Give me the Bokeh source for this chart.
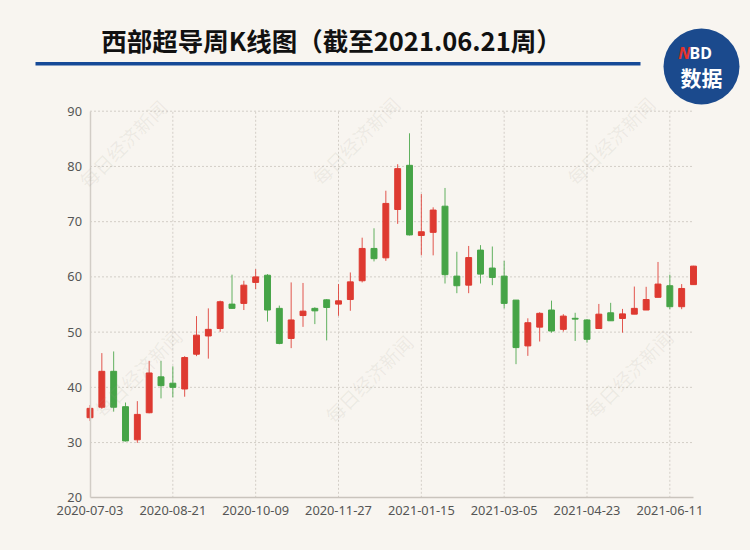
import math
from bokeh.plotting import figure
from bokeh.models import Range1d, FixedTicker, ColumnDataSource, Label, BoxAnnotation
from bokeh.embed import file_html
from bokeh.resources import INLINE

# ---------------- data ----------------
dates = [
    "2020-07-03", "2020-07-10", "2020-07-17", "2020-07-24", "2020-07-31", "2020-08-07", "2020-08-14",
    "2020-08-21", "2020-08-28", "2020-09-04", "2020-09-11", "2020-09-18", "2020-09-25", "2020-09-30",
    "2020-10-09", "2020-10-16", "2020-10-23", "2020-10-30", "2020-11-06", "2020-11-13", "2020-11-20",
    "2020-11-27", "2020-12-04", "2020-12-11", "2020-12-18", "2020-12-25", "2020-12-31", "2021-01-08",
    "2021-01-15", "2021-01-22", "2021-01-29", "2021-02-05", "2021-02-10", "2021-02-19", "2021-02-26",
    "2021-03-05", "2021-03-12", "2021-03-19", "2021-03-26", "2021-04-02", "2021-04-09", "2021-04-16",
    "2021-04-23", "2021-04-30", "2021-05-07", "2021-05-14", "2021-05-21", "2021-05-28", "2021-06-04",
    "2021-06-11", "2021-06-18", "2021-06-25",
]
opens = [34.5, 36.4, 42.9, 36.5, 30.5, 35.4, 41.9, 40.75, 39.7, 46.0, 49.3, 50.65, 55.07,
         55.2, 59.0, 60.3, 54.3, 48.85, 53.0, 54.3, 55.85, 55.07, 55.9, 59.3, 65.15, 63.45,
         72.2, 80.2, 67.5, 68.06, 72.8, 60.14, 58.5, 64.85, 61.6, 60.14, 55.8, 47.5, 50.9,
         54.0, 50.5, 52.5, 52.2, 50.65, 53.5, 52.47, 53.25, 54.0, 56.3, 58.4, 54.6, 58.6]
highs = [36.8, 46.2, 46.5, 37.25, 37.5, 44.8, 44.8, 43.8, 45.65, 52.9, 54.3, 55.7, 60.4,
         59.3, 61.4, 60.5, 54.8, 59.0, 58.9, 54.5, 55.97, 58.7, 60.8, 67.1, 68.8, 75.6,
         80.4, 86.0, 75.0, 72.6, 76.1, 64.55, 65.6, 65.75, 65.5, 62.9, 55.8, 52.5, 53.6,
         55.7, 53.25, 53.5, 52.35, 55.1, 55.3, 54.2, 58.25, 58.2, 62.7, 60.4, 58.7, 62.0]
lows = [33.9, 36.1, 35.6, 30.2, 29.95, 35.3, 38.0, 38.2, 38.3, 45.65, 45.2, 50.05, 54.2,
        54.0, 57.8, 51.9, 47.8, 47.1, 50.95, 51.45, 48.5, 52.95, 53.86, 59.0, 62.8, 62.9,
        69.6, 67.5, 63.9, 63.9, 58.8, 57.05, 57.05, 58.8, 58.5, 54.3, 44.2, 45.7, 48.3,
        49.9, 50.1, 48.4, 48.1, 50.65, 52.05, 49.9, 53.25, 54.0, 56.3, 54.15, 54.15, 58.6]
closes = [36.2, 42.9, 36.4, 30.3, 35.1, 42.6, 40.3, 40.0, 45.4, 49.45, 50.5, 55.5, 54.3,
          58.5, 60.0, 54.0, 47.95, 52.2, 53.8, 53.85, 54.46, 55.67, 59.1, 65.15, 63.3, 73.3,
          79.6, 67.6, 68.17, 72.1, 60.4, 58.4, 63.5, 60.5, 59.9, 55.2, 47.2, 51.7, 53.4,
          50.2, 52.9, 52.35, 48.7, 53.25, 52.05, 53.3, 54.3, 55.9, 58.7, 54.6, 57.9, 61.95]
y_ticks = [20, 30, 40, 50, 60, 70, 80, 90]
label_every = 7
title_text = "西部超导周K线图（截至2021.06.21周）"
watermark_text = "每日经济新闻"

# ---------------- style ----------------
BG = "#f8f5f0"
RED = "#de3a31"
GREEN = "#46a447"
GRID = "#d3cec7"
LABEL = "#555555"
NAVY = "#1b4a8d"

n = len(dates)
idx = list(range(n))
colors = [RED if c >= o else GREEN for o, c in zip(opens, closes)]
src = ColumnDataSource(dict(
    x=idx, open=opens, high=highs, low=lows, close=closes,
    top=[max(o, c) for o, c in zip(opens, closes)],
    bottom=[min(o, c) for o, c in zip(opens, closes)],
    color=colors,
))

# ---------------- canvas geometry ----------------
W, H = 746, 546
PLOT_L, PLOT_R = 89.5, 693.0      # page px of first / last category
PLOT_T, PLOT_B = 110.7, 497.3     # page px of top / bottom value
XU = (PLOT_R - PLOT_L) / (n - 1)
YU = (PLOT_B - PLOT_T) / (y_ticks[-1] - y_ticks[0])

def px2x(px):
    return (px - PLOT_L) / XU

def py2y(py):
    return y_ticks[0] + (PLOT_B - py) / YU

p = figure(width=W, height=H, output_backend="svg", toolbar_location=None,
           x_range=Range1d(px2x(0), px2x(W)), y_range=Range1d(py2y(H), py2y(0)),
           min_border=0)
p.background_fill_color = BG
p.border_fill_color = BG
p.outline_line_color = None
p.grid.visible = False

# axes drawn at the data origin, bounded to the data extent
p.xaxis.fixed_location = y_ticks[0]
p.xaxis.bounds = (0, n - 1)
p.yaxis.fixed_location = 0
p.yaxis.bounds = (y_ticks[0], y_ticks[-1])
p.xaxis.ticker = FixedTicker(ticks=idx[::label_every])
p.xaxis.major_label_overrides = {i: dates[i] for i in idx[::label_every]}
p.yaxis.ticker = FixedTicker(ticks=y_ticks)
for ax in (p.xaxis, p.yaxis):
    ax.major_tick_line_color = None
    ax.minor_tick_line_color = None
    ax.major_tick_out = 0
    ax.major_tick_in = 0
    ax.major_label_text_color = LABEL
    ax.major_label_text_font = "Noto Sans"
    ax.major_label_text_font_size = "12.8px"
p.yaxis.axis_line_color = "#d2cdc6"
p.yaxis.axis_line_width = 1.5
p.yaxis.major_label_standoff = 8
p.xaxis.axis_line_color = "#c9c4bd"
p.xaxis.axis_line_width = 1.5
p.xaxis.major_label_standoff = 8

# dotted grid lines
hg = y_ticks[1:]
p.segment(x0=[0] * len(hg), x1=[n - 1] * len(hg), y0=hg, y1=hg,
          line_color=GRID, line_dash="2 2", line_width=1)
vg = idx[label_every::label_every]
p.segment(x0=vg, x1=vg, y0=[y_ticks[0]] * len(vg), y1=[y_ticks[-1]] * len(vg),
          line_color=GRID, line_dash="2 2", line_width=1)

# watermarks
for wx, wy in [(122, 143), (355, 140), (610, 140), (137, 372), (368, 378), (628, 373)]:
    p.add_layout(Label(x=px2x(wx), y=py2y(wy), text=watermark_text, angle=math.pi / 4,
                       text_align="center", text_baseline="middle",
                       text_font="Noto Sans CJK SC", text_font_size="19px",
                       text_color="#9c958d", text_alpha=0.13))

# candles
p.segment(x0="x", y0="high", x1="x", y1="low", source=src, line_color="color", line_width=1, line_alpha=0.85)
p.vbar(x="x", width=0.5, top="top", bottom="bottom", source=src,
       fill_color="color", line_color="color", line_width=1)

# title, rule and logo
p.add_layout(Label(x=px2x(331), y=py2y(39), text=title_text, text_align="center",
                   text_baseline="middle", text_font="Noto Sans CJK SC", text_font_style="bold",
                   text_font_size="25.5px", text_color="#111111"))
p.add_layout(BoxAnnotation(left=px2x(35), right=px2x(640), top=py2y(61.5), bottom=py2y(65),
                           fill_color="#164a97", fill_alpha=1, line_color=None))
p.scatter(x=[px2x(701)], y=[py2y(66)], size=76, marker="circle", fill_color=NAVY, line_color=None)
p.add_layout(Label(x=px2x(690), y=py2y(52), text="N", text_align="right", text_baseline="middle",
                   text_font="Noto Sans", text_font_style="bold italic", text_font_size="16px",
                   text_color="#e5332b"))
p.add_layout(Label(x=px2x(689), y=py2y(52), text="BD", text_align="left", text_baseline="middle",
                   text_font="Noto Sans", text_font_style="bold", text_font_size="16px",
                   text_color="#ffffff"))
p.add_layout(Label(x=px2x(701), y=py2y(76), text="数据", text_align="center", text_baseline="middle",
                   text_font="Noto Sans CJK SC", text_font_style="bold", text_font_size="21px",
                   text_color="#ffffff"))

html = file_html(p, INLINE)
html = html.replace("<head>", "<head><style>html,body{background:%s;}</style>" % BG, 1)
open("out.html", "w").write(html)
